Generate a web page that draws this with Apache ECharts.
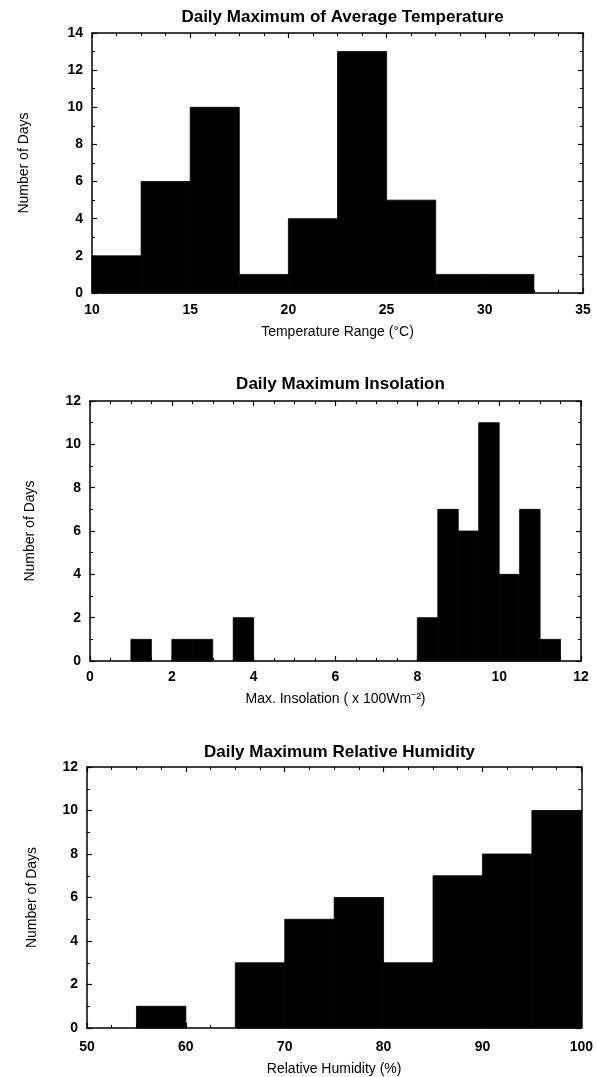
<!DOCTYPE html>
<html>
<head>
<meta charset="utf-8">
<script src="https://cdn.jsdelivr.net/npm/echarts@6/dist/echarts.min.js"></script>
<style>
html,body{margin:0;padding:0;background:#fff;}
#c{width:596px;height:1077px;}
</style>
</head>
<body>
<div id="c"></div>
<script>
// ---- Data ----
const titles = [
  'Daily Maximum of Average Temperature',
  'Daily Maximum Insolation',
  'Daily Maximum Relative Humidity'
];
const xNames = [
  'Temperature Range (°C)',
  'Max. Insolation ( x 100Wm⁻²)',
  'Relative Humidity (%)'
];
const yName = 'Number of Days';

// Temperature histogram (bin start, bin end, count)
const tempBinStart = [10, 12.5, 15, 17.5, 20, 22.5, 25, 27.5, 30];
const tempBinEnd   = [12.5, 15, 17.5, 20, 22.5, 25, 27.5, 30, 32.5];
const tempCounts   = [2, 6, 10, 1, 4, 13, 5, 1, 1];

// Insolation histogram
const insBinStart = [1, 2, 2.5, 3.5, 8, 8.5, 9, 9.5, 10, 10.5, 11];
const insBinEnd   = [1.5, 2.5, 3, 4, 8.5, 9, 9.5, 10, 10.5, 11, 11.5];
const insCounts   = [1, 1, 1, 2, 2, 7, 6, 11, 4, 7, 1];

// Relative humidity histogram
const rhBinStart = [55, 65, 70, 75, 80, 85, 90, 95];
const rhBinEnd   = [60, 70, 75, 80, 85, 90, 95, 100];
const rhCounts   = [1, 3, 5, 6, 3, 7, 8, 10];

// Axis ranges [min, max, interval, minor splits]
const xRanges = [[10, 35, 5, 4], [0, 12, 2, 4], [50, 100, 10, 4]];
const yRanges = [[0, 14, 2], [0, 12, 2], [0, 12, 2]];

// ---- Layout ----
const grids = [
  {left: 92, top: 33, width: 491, height: 260},
  {left: 90, top: 401, width: 491, height: 260},
  {left: 87, top: 767, width: 495, height: 261}
];
const titleTops = [4, 371, 739];
const yNameGaps = [61, 53, 48];
const xLabelMargins = [10, 9, 12];
const xNameGaps = [32, 31, 34];

const FONT = '"Liberation Sans", Arial, Helvetica, sans-serif';
const black = '#000';

function zip(a, b, c) { return a.map((v, i) => [v, b[i], c[i]]); }
const seriesData = [
  zip(tempBinStart, tempBinEnd, tempCounts),
  zip(insBinStart, insBinEnd, insCounts),
  zip(rhBinStart, rhBinEnd, rhCounts)
];

const lineStyle = {color: black, width: 1.5};

const xAxis = [], yAxis = [], series = [], title = [];
grids.forEach((g, i) => {
  const [xmin, xmax, xint, xminor] = xRanges[i];
  const [ymin, ymax, yint] = yRanges[i];
  title.push({
    text: titles[i],
    left: g.left + g.width / 2,
    top: titleTops[i],
    textAlign: 'center',
    textStyle: {fontFamily: FONT, fontWeight: 'bold', fontSize: 17, color: black}
  });
  const common = {
    type: 'value', gridIndex: i, min: xmin, max: xmax, interval: xint,
    axisLine: {show: true, onZero: false, lineStyle},
    axisTick: {show: true, inside: true, length: 5, lineStyle: {color: black, width: 1.2}},
    minorTick: {show: true, splitNumber: xminor, length: 3, lineStyle: {color: black, width: 1}},
    splitLine: {show: false}
  };
  xAxis.push(Object.assign({}, common, {
    position: 'bottom',
    name: xNames[i], nameLocation: 'middle', nameGap: xNameGaps[i],
    nameTextStyle: {fontFamily: FONT, fontSize: 14, color: black},
    axisLabel: {fontFamily: FONT, fontWeight: 'bold', fontSize: 14, color: black, margin: xLabelMargins[i]}
  }));
  xAxis.push(Object.assign({}, common, {
    position: 'top', axisLabel: {show: false}
  }));
  const ycommon = {
    type: 'value', gridIndex: i, min: ymin, max: ymax, interval: yint,
    axisLine: {show: true, onZero: false, lineStyle},
    axisTick: {show: true, inside: true, length: 5, lineStyle: {color: black, width: 1.2}},
    minorTick: {show: true, splitNumber: 2, length: 3, lineStyle: {color: black, width: 1}},
    splitLine: {show: false}
  };
  yAxis.push(Object.assign({}, ycommon, {
    position: 'left',
    name: yName, nameLocation: 'middle', nameGap: yNameGaps[i], nameRotate: 90,
    nameTextStyle: {fontFamily: FONT, fontSize: 14, color: black},
    axisLabel: {fontFamily: FONT, fontWeight: 'bold', fontSize: 14, color: black, margin: 9}
  }));
  yAxis.push(Object.assign({}, ycommon, {
    position: 'right', axisLabel: {show: false}
  }));
  series.push({
    type: 'custom',
    xAxisIndex: i * 2,
    yAxisIndex: i * 2,
    encode: {x: [0, 1], y: 2},
    data: seriesData[i],
    renderItem: function (params, api) {
      const x0 = api.value(0), x1 = api.value(1), c = api.value(2);
      const p0 = api.coord([x0, 0]);
      const p1 = api.coord([x1, c]);
      return {
        type: 'rect',
        shape: {x: p0[0], y: p1[1], width: p1[0] - p0[0], height: p0[1] - p1[1]},
        style: {fill: black, stroke: black, lineWidth: 0.8}
      };
    }
  });
});

const chart = echarts.init(document.getElementById('c'), null, {renderer: 'canvas'});
chart.setOption({
  backgroundColor: '#fff',
  animation: false,
  title: title,
  grid: grids,
  xAxis: xAxis,
  yAxis: yAxis,
  series: series
});
</script>
</body>
</html>
